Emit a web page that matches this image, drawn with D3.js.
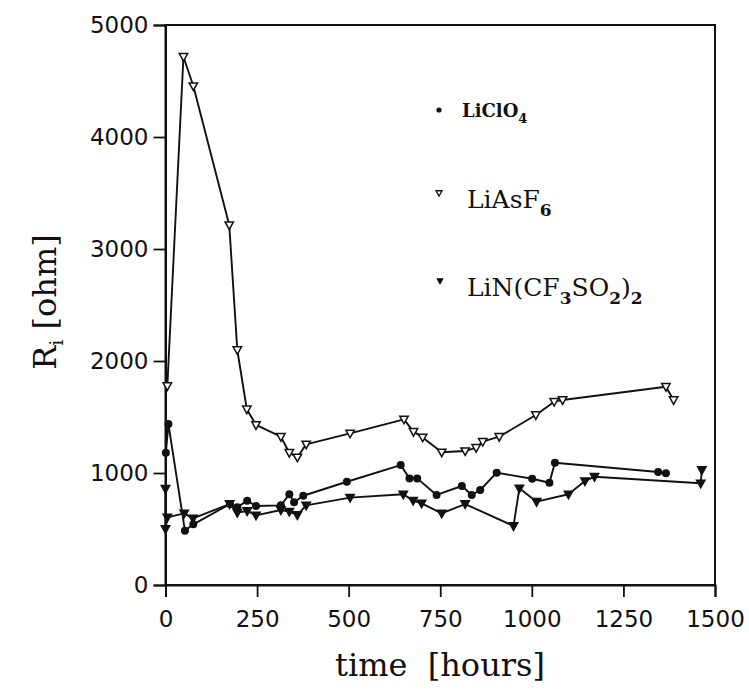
<!DOCTYPE html>
<meta charset="utf-8">
<style>
body { margin: 0; background: #fff; }
.tick text { font-family: "DejaVu Sans", sans-serif; font-size: 23px; fill: #111; }
.ttl { font-family: "DejaVu Serif", serif; fill: #111; }
</style>
<svg width="749" height="693"></svg>
<script src="https://d3js.org/d3.v7.min.js"></script>
<script>

// values
var hoursLiClO4 = [1, 8, 53, 76, 176, 196, 223, 247, 315, 338, 351, 376, 495, 642, 666, 687, 740, 809, 836, 859, 904, 1001, 1048, 1063, 1345, 1366];
var ohmLiClO4   = [1180, 1437, 485, 542, 723, 694, 753, 705, 711, 810, 738, 797, 922, 1071, 952, 952, 804, 884, 804, 848, 1003, 949, 913, 1092, 1009, 997];

var hoursLiAsF6 = [5, 49, 76, 174, 196, 222, 247, 315, 338, 360, 384, 504, 651, 677, 702, 754, 818, 848, 866, 911, 1011, 1061, 1084, 1366, 1387];
var ohmLiAsF6   = [1777, 4717, 4455, 3214, 2098, 1569, 1429, 1324, 1181, 1140, 1256, 1354, 1479, 1369, 1318, 1185, 1196, 1226, 1280, 1324, 1518, 1637, 1652, 1770, 1652];

var hoursLiN = [0, 0, 5, 51, 75, 175, 196, 223, 247, 315, 338, 360, 384, 504, 649, 676, 699, 754, 818, 950, 966, 1013, 1100, 1145, 1171, 1461, 1464];
var ohmLiN   = [860, 500, 604, 640, 595, 723, 646, 661, 622, 670, 655, 625, 711, 780, 810, 753, 729, 640, 723, 527, 863, 744, 810, 928, 967, 908, 1027];

var xTicks = [0, 250, 500, 750, 1000, 1250, 1500];
var yTicks = [0, 1000, 2000, 3000, 4000, 5000];

var svg = d3.select("svg");

var x = d3.scaleLinear().domain([0, 1500]).range([165.5, 715]);
var y = d3.scaleLinear().domain([0, 5000]).range([585, 25]);

// frame
svg.append("rect")
    .attr("x", x(0)).attr("y", y(5000))
    .attr("width", x(1500) - x(0)).attr("height", y(0) - y(5000))
    .attr("fill", "none").attr("stroke", "#111").attr("stroke-width", 2);

var xAxis = svg.append("g")
    .attr("transform", "translate(0," + y(0) + ")")
    .call(d3.axisBottom(x).tickValues(xTicks).tickFormat(d3.format("d")).tickSize(12).tickPadding(14));
var yAxis = svg.append("g")
    .attr("transform", "translate(" + x(0) + ",0)")
    .call(d3.axisLeft(y).tickValues(yTicks).tickFormat(d3.format("d")).tickSize(12).tickPadding(5));

[xAxis, yAxis].forEach(function(a) {
  a.select(".domain").attr("stroke", "#111").attr("stroke-width", 2);
  a.selectAll(".tick line").attr("stroke", "#111").attr("stroke-width", 1.8);
});

function zip(xs, ys) { return xs.map(function(t, i) { return [t, ys[i]]; }); }

var line = d3.line()
    .x(function(d) { return x(d[0]); })
    .y(function(d) { return y(d[1]); });

function tri(s) {
  return "M" + (-s) + "," + (-s * 0.75) + "L" + s + "," + (-s * 0.75) + "L0," + (s * 1.05) + "Z";
}

var series = [
  { name: "LiClO4", pts: zip(hoursLiClO4, ohmLiClO4), mark: "dot" },
  { name: "LiAsF6", pts: zip(hoursLiAsF6, ohmLiAsF6), mark: "open" },
  { name: "LiN",    pts: zip(hoursLiN, ohmLiN),       mark: "fill" }
];

series.forEach(function(s) {
  svg.append("path")
      .attr("d", line(s.pts))
      .attr("fill", "none")
      .attr("stroke", "#111")
      .attr("stroke-width", 1.9)
      .attr("stroke-linejoin", "round");
});

series.forEach(function(s) {
  var g = svg.append("g");
  if (s.mark === "dot") {
    g.selectAll("circle").data(s.pts).enter().append("circle")
        .attr("cx", function(d) { return x(d[0]); })
        .attr("cy", function(d) { return y(d[1]); })
        .attr("r", 4)
        .attr("fill", "#111");
  } else {
    g.selectAll("path").data(s.pts).enter().append("path")
        .attr("transform", function(d) { return "translate(" + x(d[0]) + "," + y(d[1]) + ")"; })
        .attr("d", tri(4.2))
        .attr("fill", s.mark === "open" ? "#fff" : "#111")
        .attr("stroke", "#111")
        .attr("stroke-width", 1.5);
  }
});

// legend
svg.append("circle").attr("cx", 439).attr("cy", 110).attr("r", 2.6).attr("fill", "#111");
svg.append("path").attr("transform", "translate(439,193)").attr("d", tri(3))
    .attr("fill", "#fff").attr("stroke", "#111").attr("stroke-width", 1.3);
svg.append("path").attr("transform", "translate(440,281)").attr("d", tri(3))
    .attr("fill", "#111").attr("stroke", "#111").attr("stroke-width", 1);

var t1 = svg.append("text").attr("class", "ttl").attr("x", 462).attr("y", 117)
    .style("font-size", "18px").style("font-weight", "bold");
t1.append("tspan").text("LiClO");
t1.append("tspan").attr("dy", 6).style("font-size", "13px").text("4");

var t2 = svg.append("text").attr("class", "ttl").attr("x", 467).attr("y", 208)
    .style("font-size", "25px");
t2.append("tspan").text("LiAsF");
t2.append("tspan").attr("dy", 8).style("font-size", "17px").style("font-weight", "bold").text("6");

var t3 = svg.append("text").attr("class", "ttl").attr("x", 467).attr("y", 296)
    .style("font-size", "25px");
t3.append("tspan").text("LiN(CF");
t3.append("tspan").attr("dy", 8).style("font-size", "17px").style("font-weight", "bold").text("3");
t3.append("tspan").attr("dy", -8).text("SO");
t3.append("tspan").attr("dy", 8).style("font-size", "17px").style("font-weight", "bold").text("2");
t3.append("tspan").attr("dy", -8).text(")");
t3.append("tspan").attr("dy", 8).style("font-size", "17px").style("font-weight", "bold").text("2");

// axis titles
svg.append("text").attr("class", "ttl")
    .attr("x", 440).attr("y", 676)
    .attr("text-anchor", "middle")
    .style("font-size", "32px")
    .style("white-space", "pre")
    .text("time  [hours]");

var yt = svg.append("text").attr("class", "ttl")
    .attr("transform", "translate(56,302) rotate(-90)")
    .attr("text-anchor", "middle")
    .style("font-size", "32px");
yt.append("tspan").text("R");
yt.append("tspan").attr("dy", 7).style("font-size", "19px").text("i");
yt.append("tspan").attr("dy", -7).text(" [ohm]");

</script>
